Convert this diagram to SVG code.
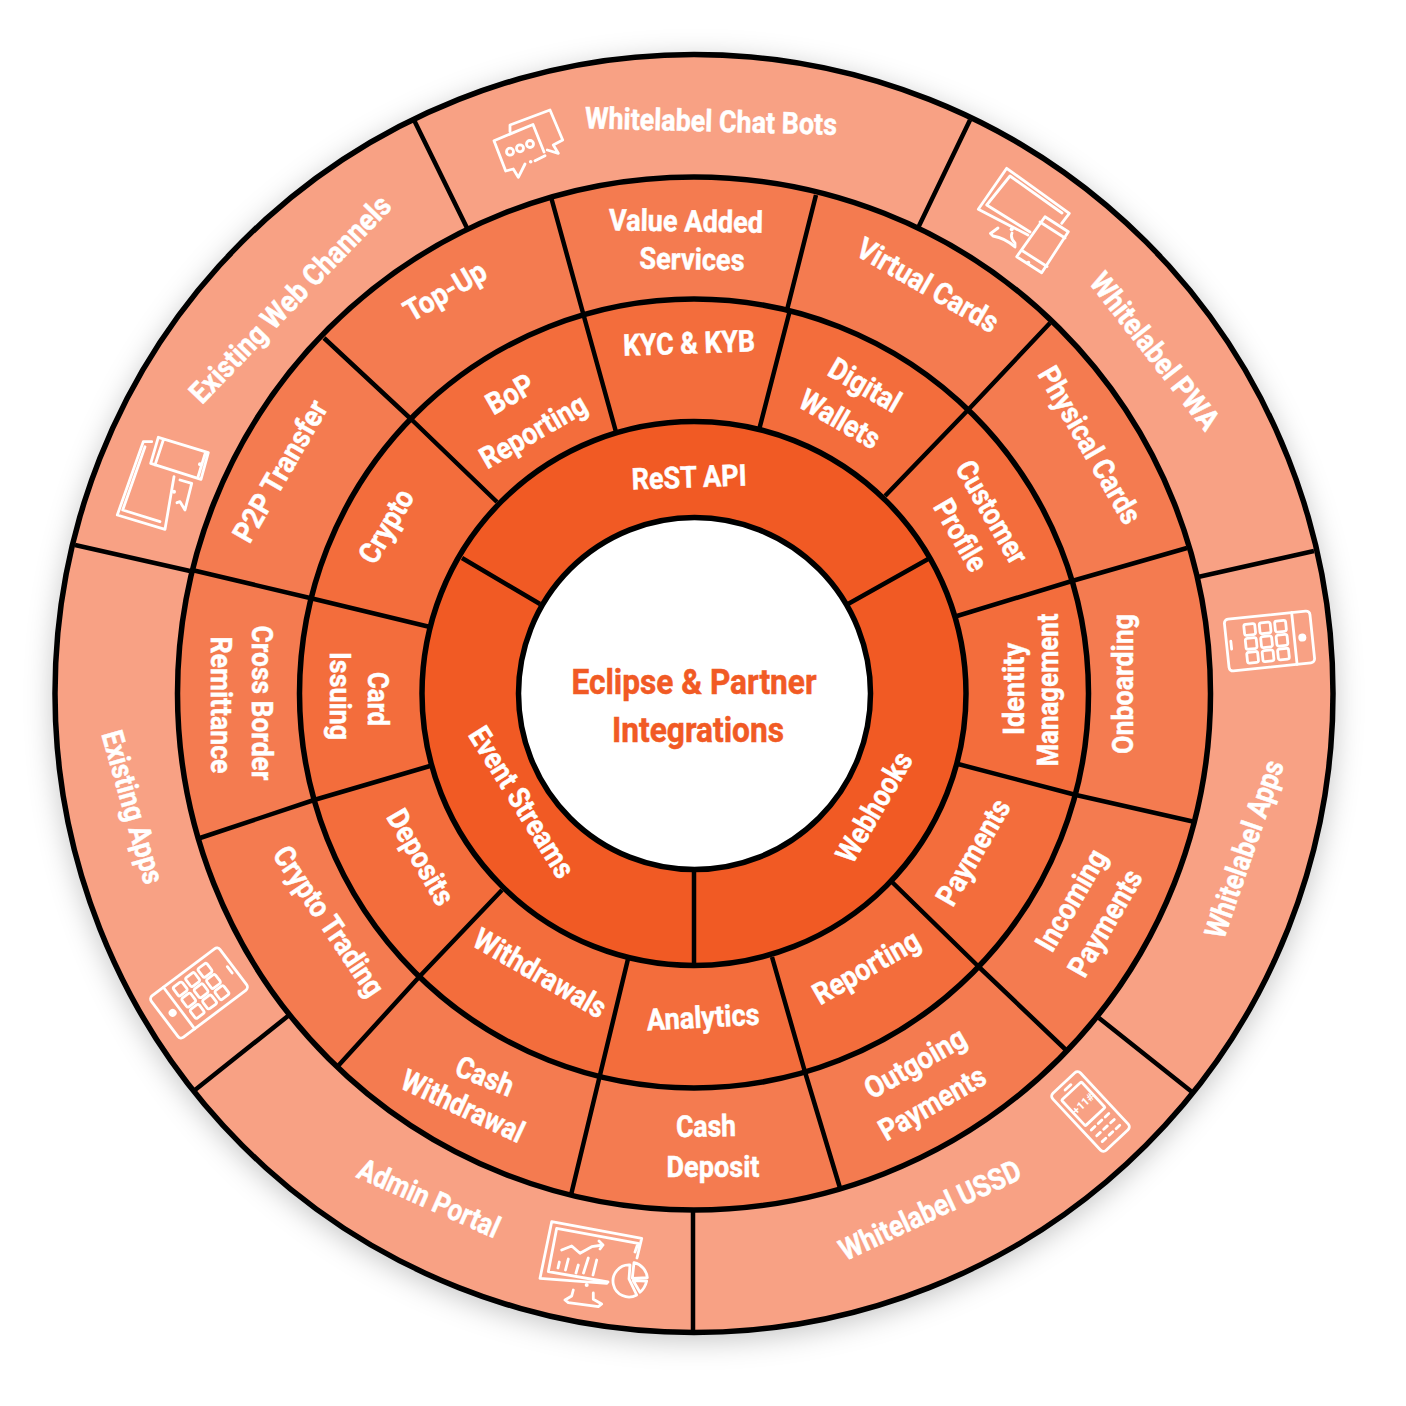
<svg xmlns="http://www.w3.org/2000/svg" width="1406" height="1406" viewBox="0 0 1406 1406">
<style>
.l{font-family:Roboto,"Liberation Sans",sans-serif;font-weight:700;font-size:30px;fill:#fff;stroke:#fff;stroke-width:.5;text-anchor:middle}
.c{font-family:Roboto,"Liberation Sans",sans-serif;font-weight:700;font-size:35px;fill:#F15A24;stroke:#F15A24;stroke-width:.5;text-anchor:middle}
.r{stroke:#000;stroke-width:5.500}
.d{stroke:#000;stroke-width:4.500;fill:none}
.i{fill:none;stroke:#fff;stroke-width:2.800;stroke-linejoin:round;stroke-linecap:round}
.f{fill:#fff;stroke:none}
</style>
<defs>
<filter id="s" x="-10%" y="-10%" width="120%" height="120%"><feDropShadow dx="0" dy="6" stdDeviation="14" flood-color="#000" flood-opacity="0.22"/></filter>
<g id="ph" class="i">
<rect x="-43" y="-26" width="86" height="52" rx="4"/>
<path d="M25-26V26M-38.500-4V4"/>
<circle class="f" cx="33" cy="0" r="4"/>
<rect x="-24" y="-19" width="11" height="11" rx="2"/><rect x="-8.500" y="-19" width="11" height="11" rx="2"/><rect x="7" y="-19" width="11" height="11" rx="2"/>
<rect x="-24" y="-5" width="11" height="11" rx="2"/><rect x="-8.500" y="-5" width="11" height="11" rx="2"/><rect x="7" y="-5" width="11" height="11" rx="2"/>
<rect x="-24" y="9" width="11" height="11" rx="2"/><rect x="-8.500" y="9" width="11" height="11" rx="2"/><rect x="7" y="9" width="11" height="11" rx="2"/>
</g>
</defs>
<rect width="1406" height="1406" fill="#fff"/>
<g id="rings">
<circle cx="694" cy="693.500" r="639" fill="#F8A184" class="r" filter="url(#s)"/>
<circle cx="694" cy="693.500" r="516.500" fill="#F47B50" class="r"/>
<circle cx="694" cy="693.500" r="394.500" fill="#F36D3C" class="r"/>
<circle cx="694" cy="693.500" r="272" fill="#F15A24" class="r"/>
<circle cx="694.500" cy="693.500" r="176" fill="#fff" class="r"/>
</g>
<g id="connectors" class="d">
<path d="M540 604L462 558M848 604L930 558M694 870V965"/>
<path d="M497 502L412 420M616 432L583 313M759 430L790 310M885 496L968 410M957 616L1072 581M958 764L1076 795M892 882L980 968M772 957L805 1072M628 959L600 1075M502 890L420 976M430 766L314 800M430 627L310 598"/>
<path d="M551 197L583 313M816 195L787 310M968 410L1050 323M1072 581L1187 548M1076 795L1195 822M980 968L1066 1050M805 1072L840 1188M600 1075L571 1195M420 976L338 1066M314 800L200 838M310 598L192 570M412 420L324 338"/>
<path d="M414 120L467 228M970 120L918 228M1198 577L1314 551M1099 1018L1192 1092M693 1210V1332M288 1016L195 1090M190 571L75 545"/>
</g>
<g id="center"><text class="c" x="694" y="682" dy=".35em" textLength="245" lengthAdjust="spacingAndGlyphs">Eclipse &amp; Partner</text><text class="c" x="698" y="730" dy=".35em" textLength="172" lengthAdjust="spacingAndGlyphs">Integrations</text></g>
<g id="ring1">
<text class="l" dy=".35em" transform="translate(689 477) rotate(-2)" textLength="115" lengthAdjust="spacingAndGlyphs">ReST API</text>
<text class="l" dy=".35em" transform="translate(874 807) rotate(-60)" textLength="122" lengthAdjust="spacingAndGlyphs">Webhooks</text>
<text class="l" dy=".35em" transform="translate(522 802) rotate(58)" textLength="172" lengthAdjust="spacingAndGlyphs">Event Streams</text>
</g>
<g id="ring2">
<text class="l" dy=".35em" transform="translate(689 343) rotate(-2)" textLength="132" lengthAdjust="spacingAndGlyphs">KYC &amp; KYB</text>
<text class="l" dy=".35em" transform="translate(865 385) rotate(30)" textLength="78" lengthAdjust="spacingAndGlyphs">Digital</text>
<text class="l" dy=".35em" transform="translate(840 419) rotate(30)" textLength="88" lengthAdjust="spacingAndGlyphs">Wallets</text>
<text class="l" dy=".35em" transform="translate(992 512) rotate(60)" textLength="114" lengthAdjust="spacingAndGlyphs">Customer</text>
<text class="l" dy=".35em" transform="translate(961 535) rotate(60)" textLength="78" lengthAdjust="spacingAndGlyphs">Profile</text>
<text class="l" dy=".35em" transform="translate(1013 689) rotate(-90)" textLength="92" lengthAdjust="spacingAndGlyphs">Identity</text>
<text class="l" dy=".35em" transform="translate(1047 690) rotate(-90)" textLength="153" lengthAdjust="spacingAndGlyphs">Management</text>
<text class="l" dy=".35em" transform="translate(973 852) rotate(-60)" textLength="117" lengthAdjust="spacingAndGlyphs">Payments</text>
<text class="l" dy=".35em" transform="translate(866 967) rotate(-30)" textLength="118" lengthAdjust="spacingAndGlyphs">Reporting</text>
<text class="l" dy=".35em" transform="translate(703 1017) rotate(-3)" textLength="113" lengthAdjust="spacingAndGlyphs">Analytics</text>
<text class="l" dy=".35em" transform="translate(540 973) rotate(30)" textLength="148" lengthAdjust="spacingAndGlyphs">Withdrawals</text>
<text class="l" dy=".35em" transform="translate(421 857) rotate(60)" textLength="105" lengthAdjust="spacingAndGlyphs">Deposits</text>
<text class="l" dy=".35em" transform="translate(378 699) rotate(90)" textLength="54" lengthAdjust="spacingAndGlyphs">Card</text>
<text class="l" dy=".35em" transform="translate(340 696) rotate(90)" textLength="88" lengthAdjust="spacingAndGlyphs">Issuing</text>
<text class="l" dy=".35em" transform="translate(386 526) rotate(-60)" textLength="80" lengthAdjust="spacingAndGlyphs">Crypto</text>
<text class="l" dy=".35em" transform="translate(510 394) rotate(-30)" textLength="50" lengthAdjust="spacingAndGlyphs">BoP</text>
<text class="l" dy=".35em" transform="translate(533 431) rotate(-30)" textLength="118" lengthAdjust="spacingAndGlyphs">Reporting</text>
</g>
<g id="ring3">
<text class="l" dy=".35em" transform="translate(686 221) rotate(1)" textLength="154" lengthAdjust="spacingAndGlyphs">Value Added</text>
<text class="l" dy=".35em" transform="translate(692 259) rotate(1)" textLength="105" lengthAdjust="spacingAndGlyphs">Services</text>
<text class="l" dy=".35em" transform="translate(928 285) rotate(30)" textLength="158" lengthAdjust="spacingAndGlyphs">Virtual Cards</text>
<text class="l" dy=".35em" transform="translate(1090 445) rotate(60)" textLength="176" lengthAdjust="spacingAndGlyphs">Physical Cards</text>
<text class="l" dy=".35em" transform="translate(1122 684) rotate(-90)" textLength="140" lengthAdjust="spacingAndGlyphs">Onboarding</text>
<text class="l" dy=".35em" transform="translate(1071 900) rotate(-60)" textLength="112" lengthAdjust="spacingAndGlyphs">Incoming</text>
<text class="l" dy=".35em" transform="translate(1105 923) rotate(-60)" textLength="118" lengthAdjust="spacingAndGlyphs">Payments</text>
<text class="l" dy=".35em" transform="translate(915 1063) rotate(-30)" textLength="112" lengthAdjust="spacingAndGlyphs">Outgoing</text>
<text class="l" dy=".35em" transform="translate(932 1103) rotate(-30)" textLength="118" lengthAdjust="spacingAndGlyphs">Payments</text>
<text class="l" dy=".35em" transform="translate(706 1126) rotate(-1)" textLength="60" lengthAdjust="spacingAndGlyphs">Cash</text>
<text class="l" dy=".35em" transform="translate(713 1166)" textLength="93" lengthAdjust="spacingAndGlyphs">Deposit</text>
<text class="l" dy=".35em" transform="translate(485 1076) rotate(22)" textLength="60" lengthAdjust="spacingAndGlyphs">Cash</text>
<text class="l" dy=".35em" transform="translate(463 1106) rotate(25)" textLength="132" lengthAdjust="spacingAndGlyphs">Withdrawal</text>
<text class="l" dy=".35em" transform="translate(329 921) rotate(56)" textLength="174" lengthAdjust="spacingAndGlyphs">Crypto Trading</text>
<text class="l" dy=".35em" transform="translate(262 703) rotate(90)" textLength="155" lengthAdjust="spacingAndGlyphs">Cross Border</text>
<text class="l" dy=".35em" transform="translate(221 705) rotate(90)" textLength="137" lengthAdjust="spacingAndGlyphs">Remittance</text>
<text class="l" dy=".35em" transform="translate(280 471) rotate(-60)" textLength="158" lengthAdjust="spacingAndGlyphs">P2P Transfer</text>
<text class="l" dy=".35em" transform="translate(445 291) rotate(-30)" textLength="90" lengthAdjust="spacingAndGlyphs">Top-Up</text>
</g>
<g id="chat-bots">
<text class="l" dy=".35em" transform="translate(711 121) rotate(1.500)" textLength="252" lengthAdjust="spacingAndGlyphs">Whitelabel Chat Bots</text>
<path class="i" d="M544 152L533 124.500L494 140.700L505.700 171L513.300 169L518.300 177.300L525 164M535 160.700L545 155.700M510 131.700V125L550 110L562.700 140L553.300 145L558.300 153.300L547.300 150"/>
<circle class="i" cx="510" cy="151.700" r="3.500"/><circle class="i" cx="520" cy="148.300" r="3.500"/><circle class="i" cx="530" cy="144" r="3.500"/><circle class="f" cx="530.700" cy="161.700" r="1.800"/>
</g>
<g id="pwa">
<text class="l" dy=".35em" transform="translate(1155 351) rotate(52)" textLength="190" lengthAdjust="spacingAndGlyphs">Whitelabel PWA</text>
<path class="i" d="M1028 235L978.300 209.300L1006.700 168.300L1069.300 213.300L1061.700 223.300M986.700 205L1010 176L1062 213M986.700 205L1030 232M998 228L990.500 233.500L993 236Q1005 238 1015 247V243Q1010 238 1012 233"/>
<circle class="f" cx="1011.700" cy="229.300" r="2"/>
<path class="i" d="M1045 216.700L1068.300 231.700L1041.700 272.700L1016.700 256.700ZM1040 222L1065 238M1022 250.500L1047 266.500"/>
<circle class="f" cx="1028.300" cy="262.700" r="2"/>
</g>
<g id="web-channels">
<text class="l" dy=".35em" transform="translate(290 299) rotate(-46)" textLength="275" lengthAdjust="spacingAndGlyphs">Existing Web Channels</text>
<path class="i" d="M151.700 441.700H143.300L117.300 515L165 529.300L174 476.700M145 446.700L122.700 510L160 521.700"/>
<path class="i" d="M158.300 437.300L208.300 452.700L201 479.300L150.700 463.300ZM163.300 440L155 465M205 454L198 477M180 480L191.700 483.300L185 510L180 501.700L177 502.700"/>
<circle class="f" cx="200" cy="464.300" r="2"/><circle class="f" cx="174" cy="491.700" r="2"/>
</g>
<g id="wl-apps">
<text class="l" dy=".35em" transform="translate(1244 849) rotate(-71)" textLength="186" lengthAdjust="spacingAndGlyphs">Whitelabel Apps</text>
<use href="#ph" transform="translate(1269.500 641) rotate(-6)"/>
</g>
<g id="ussd">
<text class="l" dy=".35em" transform="translate(930 1210) rotate(-25)" textLength="197" lengthAdjust="spacingAndGlyphs">Whitelabel USSD</text>
<g transform="translate(1090.500 1111.500) rotate(-43)">
<rect class="i" x="-19" y="-39" width="38" height="78" rx="4"/>
<rect class="i" x="-13.500" y="-28" width="27" height="35" rx="1"/>
<path class="i" d="M-4-33H4M-12 14H-7M-2.500 14H2.500M7 14H12M-12 22H-7M-2.500 22H2.500M7 22H12M-12 30H-7M-2.500 30H2.500M7 30H12"/>
<text x="0" y="-7" text-anchor="middle" font-family="Roboto,sans-serif" font-weight="700" font-size="11" fill="#fff">+11#</text>
</g>
</g>
<g id="admin">
<text class="l" dy=".35em" transform="translate(429 1198) rotate(24)" textLength="152" lengthAdjust="spacingAndGlyphs">Admin Portal</text>
<path class="i" d="M637 1258L641.700 1238.300L551.700 1221.700L540 1278.300L606.700 1283.300M635 1252L638 1243.300L556.700 1228.300L548.300 1271.700L608 1282M573.300 1290L571.700 1296L565 1300L568.300 1302.700L598.300 1306.700L601.700 1304L593.300 1299.300L593.300 1293"/>
<circle class="f" cx="586.700" cy="1285" r="2"/>
<path class="i" d="M561.700 1250L571.700 1246L580 1253.300L591.700 1246.700L603 1245M599 1241L603 1245L600 1249M559.300 1262L558 1268M568.300 1259L565.500 1270M578.300 1265L576 1273M588.300 1258L583.500 1273M596.700 1260L593 1275"/>
<path class="i" d="M630 1265A16 16 0 1 0 636.700 1295L629 1279ZM634 1262.700A17 17 0 0 1 647.300 1277.700L632.300 1278.300ZM633.300 1280.700L646.700 1281Q645 1288 640 1292.300Z"/>
</g>
<g id="existing-apps">
<text class="l" dy=".35em" transform="translate(133 807) rotate(74)" textLength="158" lengthAdjust="spacingAndGlyphs">Existing Apps</text>
<use href="#ph" transform="translate(199 993) rotate(143)"/>
</g>
</svg>
